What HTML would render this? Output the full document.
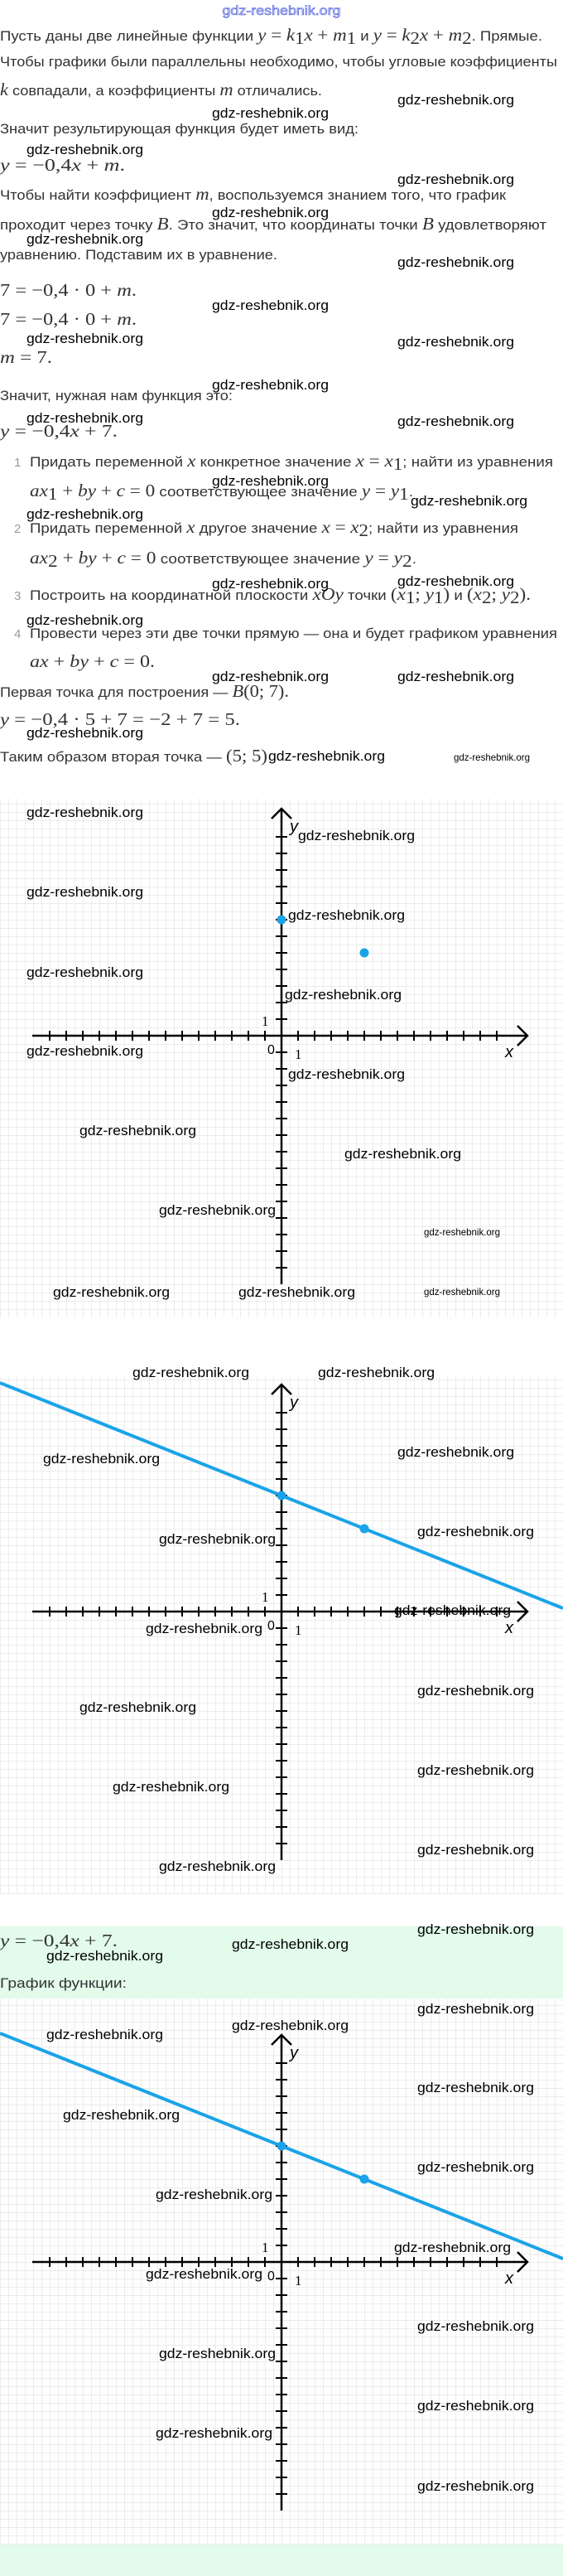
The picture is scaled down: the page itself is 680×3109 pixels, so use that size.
<!DOCTYPE html>
<html><head><meta charset="utf-8"><style>
html,body{margin:0;padding:0;background:#fff;}
svg{display:block;}
.t{font-family:"Liberation Sans",sans-serif;font-size:17px;fill:#333;}
.m{font-family:"Liberation Serif",serif;font-style:italic;font-size:21px;}
.r{font-family:"Liberation Serif",serif;font-style:normal;font-size:21px;}
.n{fill:#999;font-size:15px;}
.w{font-family:"Liberation Sans",sans-serif;font-size:17px;fill:#000;}
.ws{font-family:"Liberation Sans",sans-serif;font-size:12px;fill:#000;}
.lab{font-family:"Liberation Serif",serif;font-size:17px;fill:#000;}
.ax{font-family:"Liberation Sans",sans-serif;font-style:italic;font-size:20px;fill:#000;}
</style></head><body>
<svg width="680" height="3109" viewBox="0 0 680 3109" xmlns="http://www.w3.org/2000/svg">
<defs>
<pattern id="g" width="10" height="10" patternUnits="userSpaceOnUse">
<path d="M0 0.5H10M0.5 0V10" stroke="#ececec" stroke-width="1" fill="none"/>
</pattern>
<g id="axes">
<line x1="-301" y1="0" x2="296" y2="0" stroke="#000" stroke-width="2.5"/>
<line x1="-281" y1="0" x2="261" y2="0" stroke="#000" stroke-width="12" stroke-dasharray="2 18"/>
<polyline points="285,-12 297,0 285,12" fill="none" stroke="#000" stroke-width="2.5"/>
<line x1="0" y1="-274" x2="0" y2="300" stroke="#000" stroke-width="2.5"/>
<line x1="0" y1="-241" x2="0" y2="281" stroke="#000" stroke-width="14" stroke-dasharray="2 18"/>
<polyline points="-12,-262 0,-274 12,-262" fill="none" stroke="#000" stroke-width="2.5"/>
<text class="ax" x="10" y="-246">y</text>
<text class="ax" x="270" y="26">x</text>
<text x="-17" y="22" font-family="Liberation Sans,sans-serif" font-size="16" fill="#000">0</text>
<text class="lab" x="16" y="28">1</text>
<text class="lab" x="-24" y="-12">1</text>
</g>
</defs>

<text x="340" y="18" text-anchor="middle" font-family="Liberation Sans,sans-serif" font-size="16" fill="#dfe3ff" stroke="#3d4fd6" stroke-width="0.6" textLength="143" lengthAdjust="spacingAndGlyphs">gdz-reshebnik.org</text>

<text class="t" x="0" y="49" textLength="655" lengthAdjust="spacingAndGlyphs">Пусть даны две линейные функции <tspan class="m">y</tspan><tspan class="r"> = </tspan><tspan class="m">k</tspan><tspan font-size="13" dy="4" class="r">1</tspan><tspan class="m" dy="-4">x</tspan><tspan class="r"> + </tspan><tspan class="m">m</tspan><tspan font-size="13" dy="4" class="r">1</tspan><tspan dy="-4"> и </tspan><tspan class="m">y</tspan><tspan class="r"> = </tspan><tspan class="m">k</tspan><tspan font-size="13" dy="4" class="r">2</tspan><tspan class="m" dy="-4">x</tspan><tspan class="r"> + </tspan><tspan class="m">m</tspan><tspan font-size="13" dy="4" class="r">2</tspan><tspan dy="-4">. Прямые.</tspan></text>
<text class="t" x="0" y="80" textLength="673" lengthAdjust="spacingAndGlyphs">Чтобы графики были параллельны необходимо, чтобы угловые коэффициенты</text>
<text class="t" x="0" y="115" textLength="389" lengthAdjust="spacingAndGlyphs"><tspan class="m">k</tspan> совпадали, а коэффициенты <tspan class="m">m</tspan> отличались.</text>
<text class="t" x="0" y="161" textLength="433" lengthAdjust="spacingAndGlyphs">Значит результирующая функция будет иметь вид:</text>
<text class="t" x="0" y="206" textLength="151" lengthAdjust="spacingAndGlyphs"><tspan class="m">y</tspan><tspan class="r"> = −0,4</tspan><tspan class="m">x</tspan><tspan class="r"> + </tspan><tspan class="m">m</tspan><tspan class="r">.</tspan></text>
<text class="t" x="0" y="241" textLength="611" lengthAdjust="spacingAndGlyphs">Чтобы найти коэффициент <tspan class="m">m</tspan>, воспользуемся знанием того, что график</text>
<text class="t" x="0" y="277" textLength="660" lengthAdjust="spacingAndGlyphs">проходит через точку <tspan class="m">B</tspan>. Это значит, что координаты точки <tspan class="m">B</tspan> удовлетворяют</text>
<text class="t" x="0" y="313" textLength="335" lengthAdjust="spacingAndGlyphs">уравнению. Подставим их в уравнение.</text>
<text class="t" x="0" y="357" textLength="165" lengthAdjust="spacingAndGlyphs"><tspan class="r">7 = −0,4 · 0 + </tspan><tspan class="m">m</tspan><tspan class="r">.</tspan></text>
<text class="t" x="0" y="392" textLength="165" lengthAdjust="spacingAndGlyphs"><tspan class="r">7 = −0,4 · 0 + </tspan><tspan class="m">m</tspan><tspan class="r">.</tspan></text>
<text class="t" x="0" y="438" textLength="63" lengthAdjust="spacingAndGlyphs"><tspan class="m">m</tspan><tspan class="r"> = 7.</tspan></text>
<text class="t" x="0" y="483" textLength="281" lengthAdjust="spacingAndGlyphs">Значит, нужная нам функция это:</text>
<text class="t" x="0" y="527" textLength="142" lengthAdjust="spacingAndGlyphs"><tspan class="m">y</tspan><tspan class="r"> = −0,4</tspan><tspan class="m">x</tspan><tspan class="r"> + 7.</tspan></text>

<text class="t n" x="17" y="563">1</text>
<text class="t" x="36" y="563" textLength="632" lengthAdjust="spacingAndGlyphs">Придать переменной <tspan class="m">x</tspan> конкретное значение <tspan class="m">x</tspan><tspan class="r"> = </tspan><tspan class="m">x</tspan><tspan font-size="13" dy="4" class="r">1</tspan><tspan dy="-4">; найти из уравнения</tspan></text>
<text class="t" x="36" y="599" textLength="463" lengthAdjust="spacingAndGlyphs"><tspan class="m">ax</tspan><tspan font-size="13" dy="4" class="r">1</tspan><tspan class="r" dy="-4"> + </tspan><tspan class="m">by</tspan><tspan class="r"> + </tspan><tspan class="m">c</tspan><tspan class="r"> = 0</tspan> соответствующее значение <tspan class="m">y</tspan><tspan class="r"> = </tspan><tspan class="m">y</tspan><tspan font-size="13" dy="4" class="r">1</tspan><tspan dy="-4">.</tspan></text>
<text class="t n" x="17" y="643">2</text>
<text class="t" x="36" y="643" textLength="590" lengthAdjust="spacingAndGlyphs">Придать переменной <tspan class="m">x</tspan> другое значение <tspan class="m">x</tspan><tspan class="r"> = </tspan><tspan class="m">x</tspan><tspan font-size="13" dy="4" class="r">2</tspan><tspan dy="-4">; найти из уравнения</tspan></text>
<text class="t" x="36" y="680" textLength="467" lengthAdjust="spacingAndGlyphs"><tspan class="m">ax</tspan><tspan font-size="13" dy="4" class="r">2</tspan><tspan class="r" dy="-4"> + </tspan><tspan class="m">by</tspan><tspan class="r"> + </tspan><tspan class="m">c</tspan><tspan class="r"> = 0</tspan> соответствующее значение <tspan class="m">y</tspan><tspan class="r"> = </tspan><tspan class="m">y</tspan><tspan font-size="13" dy="4" class="r">2</tspan><tspan dy="-4">.</tspan></text>
<text class="t n" x="17" y="724">3</text>
<text class="t" x="36" y="724" textLength="605" lengthAdjust="spacingAndGlyphs">Построить на координатной плоскости <tspan class="m">xOy</tspan> точки <tspan class="r">(</tspan><tspan class="m">x</tspan><tspan font-size="13" dy="4" class="r">1</tspan><tspan class="r" dy="-4">;  </tspan><tspan class="m">y</tspan><tspan font-size="13" dy="4" class="r">1</tspan><tspan class="r" dy="-4">)</tspan> и <tspan class="r">(</tspan><tspan class="m">x</tspan><tspan font-size="13" dy="4" class="r">2</tspan><tspan class="r" dy="-4">;  </tspan><tspan class="m">y</tspan><tspan font-size="13" dy="4" class="r">2</tspan><tspan class="r" dy="-4">).</tspan></text>
<text class="t n" x="17" y="770">4</text>
<text class="t" x="36" y="770" textLength="637" lengthAdjust="spacingAndGlyphs">Провести через эти две точки прямую — она и будет графиком уравнения</text>
<text class="t" x="36" y="805" textLength="151" lengthAdjust="spacingAndGlyphs"><tspan class="m">ax</tspan><tspan class="r"> + </tspan><tspan class="m">by</tspan><tspan class="r"> + </tspan><tspan class="m">c</tspan><tspan class="r"> = 0.</tspan></text>
<text class="t" x="0" y="841" textLength="349" lengthAdjust="spacingAndGlyphs">Первая точка для построения — <tspan class="m">B</tspan><tspan class="r">(0; 7).</tspan></text>
<text class="t" x="0" y="875" textLength="290" lengthAdjust="spacingAndGlyphs"><tspan class="m">y</tspan><tspan class="r"> = −0,4 · 5 + 7 = −2 + 7 = 5.</tspan></text>
<text class="t" x="0" y="919" textLength="323" lengthAdjust="spacingAndGlyphs">Таким образом вторая точка — <tspan class="r">(5;  5)</tspan></text>

<g transform="translate(340,1250)">
<rect x="-340" y="-286" width="680" height="626" fill="#fff"/>
<rect x="-340" y="-286" width="680" height="626" fill="url(#g)"/>
<use href="#axes"/>
<circle cx="0" cy="-140" r="5.5" fill="#1aa3e8"/>
<circle cx="100" cy="-100" r="5.5" fill="#1aa3e8"/>
</g>

<g transform="translate(340,1945)">
<rect x="-340" y="-283" width="680" height="624" fill="#fff"/>
<rect x="-340" y="-283" width="680" height="624" fill="url(#g)"/>
<use href="#axes"/>
<line x1="-340" y1="-276" x2="340" y2="-4" stroke="#1aa3e8" stroke-width="4"/>
<circle cx="0" cy="-140" r="5.5" fill="#1aa3e8"/>
<circle cx="100" cy="-100" r="5.5" fill="#1aa3e8"/>
</g>

<rect x="0" y="2325" width="680" height="784" fill="#e2fbea"/>
<text class="t" x="0" y="2349" textLength="142" lengthAdjust="spacingAndGlyphs"><tspan class="m">y</tspan><tspan class="r"> = −0,4</tspan><tspan class="m">x</tspan><tspan class="r"> + 7.</tspan></text>
<text class="t" x="0" y="2399" textLength="153" lengthAdjust="spacingAndGlyphs">График функции:</text>

<g transform="translate(340,2730)">
<rect x="-340" y="-318" width="680" height="659" fill="#fdfefd"/>
<rect x="-340" y="-318" width="680" height="659" fill="url(#g)"/>
<use href="#axes"/>
<line x1="-340" y1="-276" x2="340" y2="-4" stroke="#1aa3e8" stroke-width="4"/>
<circle cx="0" cy="-140" r="5.5" fill="#1aa3e8"/>
<circle cx="100" cy="-100" r="5.5" fill="#1aa3e8"/>
</g>

<g class="w">
<text class="w" x="480" y="126" textLength="141" lengthAdjust="spacingAndGlyphs">gdz-reshebnik.org</text>
<text class="w" x="256" y="142" textLength="141" lengthAdjust="spacingAndGlyphs">gdz-reshebnik.org</text>
<text class="w" x="32" y="186" textLength="141" lengthAdjust="spacingAndGlyphs">gdz-reshebnik.org</text>
<text class="w" x="480" y="222" textLength="141" lengthAdjust="spacingAndGlyphs">gdz-reshebnik.org</text>
<text class="w" x="256" y="262" textLength="141" lengthAdjust="spacingAndGlyphs">gdz-reshebnik.org</text>
<text class="w" x="32" y="294" textLength="141" lengthAdjust="spacingAndGlyphs">gdz-reshebnik.org</text>
<text class="w" x="480" y="322" textLength="141" lengthAdjust="spacingAndGlyphs">gdz-reshebnik.org</text>
<text class="w" x="256" y="374" textLength="141" lengthAdjust="spacingAndGlyphs">gdz-reshebnik.org</text>
<text class="w" x="32" y="414" textLength="141" lengthAdjust="spacingAndGlyphs">gdz-reshebnik.org</text>
<text class="w" x="480" y="418" textLength="141" lengthAdjust="spacingAndGlyphs">gdz-reshebnik.org</text>
<text class="w" x="256" y="470" textLength="141" lengthAdjust="spacingAndGlyphs">gdz-reshebnik.org</text>
<text class="w" x="32" y="510" textLength="141" lengthAdjust="spacingAndGlyphs">gdz-reshebnik.org</text>
<text class="w" x="480" y="514" textLength="141" lengthAdjust="spacingAndGlyphs">gdz-reshebnik.org</text>
<text class="w" x="256" y="586" textLength="141" lengthAdjust="spacingAndGlyphs">gdz-reshebnik.org</text>
<text class="w" x="496" y="610" textLength="141" lengthAdjust="spacingAndGlyphs">gdz-reshebnik.org</text>
<text class="w" x="32" y="626" textLength="141" lengthAdjust="spacingAndGlyphs">gdz-reshebnik.org</text>
<text class="w" x="480" y="707" textLength="141" lengthAdjust="spacingAndGlyphs">gdz-reshebnik.org</text>
<text class="w" x="256" y="710" textLength="141" lengthAdjust="spacingAndGlyphs">gdz-reshebnik.org</text>
<text class="w" x="32" y="754" textLength="141" lengthAdjust="spacingAndGlyphs">gdz-reshebnik.org</text>
<text class="w" x="256" y="822" textLength="141" lengthAdjust="spacingAndGlyphs">gdz-reshebnik.org</text>
<text class="w" x="480" y="822" textLength="141" lengthAdjust="spacingAndGlyphs">gdz-reshebnik.org</text>
<text class="w" x="32" y="890" textLength="141" lengthAdjust="spacingAndGlyphs">gdz-reshebnik.org</text>
<text class="w" x="324" y="918" textLength="141" lengthAdjust="spacingAndGlyphs">gdz-reshebnik.org</text>
<text class="ws" x="548" y="918" textLength="92" lengthAdjust="spacingAndGlyphs">gdz-reshebnik.org</text>
<text class="w" x="32" y="986" textLength="141" lengthAdjust="spacingAndGlyphs">gdz-reshebnik.org</text>
<text class="w" x="360" y="1014" textLength="141" lengthAdjust="spacingAndGlyphs">gdz-reshebnik.org</text>
<text class="w" x="32" y="1082" textLength="141" lengthAdjust="spacingAndGlyphs">gdz-reshebnik.org</text>
<text class="w" x="348" y="1110" textLength="141" lengthAdjust="spacingAndGlyphs">gdz-reshebnik.org</text>
<text class="w" x="32" y="1179" textLength="141" lengthAdjust="spacingAndGlyphs">gdz-reshebnik.org</text>
<text class="w" x="344" y="1206" textLength="141" lengthAdjust="spacingAndGlyphs">gdz-reshebnik.org</text>
<text class="w" x="32" y="1274" textLength="141" lengthAdjust="spacingAndGlyphs">gdz-reshebnik.org</text>
<text class="w" x="348" y="1302" textLength="141" lengthAdjust="spacingAndGlyphs">gdz-reshebnik.org</text>
<text class="w" x="96" y="1370" textLength="141" lengthAdjust="spacingAndGlyphs">gdz-reshebnik.org</text>
<text class="w" x="416" y="1398" textLength="141" lengthAdjust="spacingAndGlyphs">gdz-reshebnik.org</text>
<text class="w" x="192" y="1466" textLength="141" lengthAdjust="spacingAndGlyphs">gdz-reshebnik.org</text>
<text class="ws" x="512" y="1491" textLength="92" lengthAdjust="spacingAndGlyphs">gdz-reshebnik.org</text>
<text class="w" x="64" y="1565" textLength="141" lengthAdjust="spacingAndGlyphs">gdz-reshebnik.org</text>
<text class="w" x="288" y="1565" textLength="141" lengthAdjust="spacingAndGlyphs">gdz-reshebnik.org</text>
<text class="ws" x="512" y="1563" textLength="92" lengthAdjust="spacingAndGlyphs">gdz-reshebnik.org</text>
<text class="w" x="160" y="1662" textLength="141" lengthAdjust="spacingAndGlyphs">gdz-reshebnik.org</text>
<text class="w" x="384" y="1662" textLength="141" lengthAdjust="spacingAndGlyphs">gdz-reshebnik.org</text>
<text class="w" x="52" y="1766" textLength="141" lengthAdjust="spacingAndGlyphs">gdz-reshebnik.org</text>
<text class="w" x="480" y="1758" textLength="141" lengthAdjust="spacingAndGlyphs">gdz-reshebnik.org</text>
<text class="w" x="192" y="1863" textLength="141" lengthAdjust="spacingAndGlyphs">gdz-reshebnik.org</text>
<text class="w" x="504" y="1854" textLength="141" lengthAdjust="spacingAndGlyphs">gdz-reshebnik.org</text>
<text class="w" x="476" y="1949" textLength="141" lengthAdjust="spacingAndGlyphs">gdz-reshebnik.org</text>
<text class="w" x="176" y="1971" textLength="141" lengthAdjust="spacingAndGlyphs">gdz-reshebnik.org</text>
<text class="w" x="504" y="2046" textLength="141" lengthAdjust="spacingAndGlyphs">gdz-reshebnik.org</text>
<text class="w" x="96" y="2066" textLength="141" lengthAdjust="spacingAndGlyphs">gdz-reshebnik.org</text>
<text class="w" x="504" y="2142" textLength="141" lengthAdjust="spacingAndGlyphs">gdz-reshebnik.org</text>
<text class="w" x="136" y="2162" textLength="141" lengthAdjust="spacingAndGlyphs">gdz-reshebnik.org</text>
<text class="w" x="504" y="2238" textLength="141" lengthAdjust="spacingAndGlyphs">gdz-reshebnik.org</text>
<text class="w" x="192" y="2258" textLength="141" lengthAdjust="spacingAndGlyphs">gdz-reshebnik.org</text>
<text class="w" x="504" y="2334" textLength="141" lengthAdjust="spacingAndGlyphs">gdz-reshebnik.org</text>
<text class="w" x="280" y="2352" textLength="141" lengthAdjust="spacingAndGlyphs">gdz-reshebnik.org</text>
<text class="w" x="56" y="2366" textLength="141" lengthAdjust="spacingAndGlyphs">gdz-reshebnik.org</text>
<text class="w" x="504" y="2430" textLength="141" lengthAdjust="spacingAndGlyphs">gdz-reshebnik.org</text>
<text class="w" x="280" y="2450" textLength="141" lengthAdjust="spacingAndGlyphs">gdz-reshebnik.org</text>
<text class="w" x="56" y="2461" textLength="141" lengthAdjust="spacingAndGlyphs">gdz-reshebnik.org</text>
<text class="w" x="504" y="2525" textLength="141" lengthAdjust="spacingAndGlyphs">gdz-reshebnik.org</text>
<text class="w" x="76" y="2558" textLength="141" lengthAdjust="spacingAndGlyphs">gdz-reshebnik.org</text>
<text class="w" x="504" y="2621" textLength="141" lengthAdjust="spacingAndGlyphs">gdz-reshebnik.org</text>
<text class="w" x="188" y="2654" textLength="141" lengthAdjust="spacingAndGlyphs">gdz-reshebnik.org</text>
<text class="w" x="476" y="2718" textLength="141" lengthAdjust="spacingAndGlyphs">gdz-reshebnik.org</text>
<text class="w" x="176" y="2750" textLength="141" lengthAdjust="spacingAndGlyphs">gdz-reshebnik.org</text>
<text class="w" x="504" y="2813" textLength="141" lengthAdjust="spacingAndGlyphs">gdz-reshebnik.org</text>
<text class="w" x="192" y="2846" textLength="141" lengthAdjust="spacingAndGlyphs">gdz-reshebnik.org</text>
<text class="w" x="504" y="2909" textLength="141" lengthAdjust="spacingAndGlyphs">gdz-reshebnik.org</text>
<text class="w" x="188" y="2942" textLength="141" lengthAdjust="spacingAndGlyphs">gdz-reshebnik.org</text>
<text class="w" x="504" y="3006" textLength="141" lengthAdjust="spacingAndGlyphs">gdz-reshebnik.org</text>
</g>
</svg>
</body></html>
